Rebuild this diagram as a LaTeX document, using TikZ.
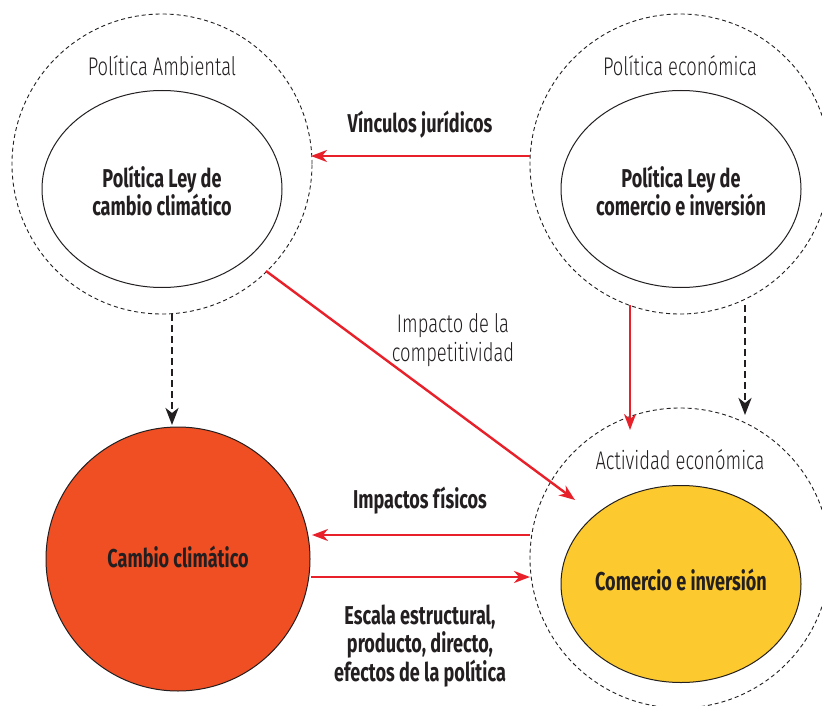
\documentclass[tikz,border=0pt]{standalone}
\usepackage{fontspec}
\setmainfont{Fira Sans}[FakeStretch=0.7]
\newfontfamily\lightfont{Fira Sans Light}[FakeStretch=0.72]
\usetikzlibrary{shapes.geometric,arrows.meta,calc}
\definecolor{ink}{HTML}{231F20}
\definecolor{arrowred}{HTML}{E8202A}
\definecolor{climorange}{HTML}{F04E23}
\definecolor{tradeyellow}{HTML}{FCC92E}
\tikzset{
  outer/.style={circle, draw=ink, dash pattern=on 4pt off 3pt, line width=0.9pt, minimum size=300pt, inner sep=0pt},
  inner/.style={ellipse, draw=ink, line width=1pt, minimum width=240pt, minimum height=197pt, inner sep=0pt},
  boldtxt/.style={align=center, text=ink, font=\bfseries\fontsize{25.8}{28.5}\selectfont, inner sep=0pt},
  lighttxt/.style={align=center, text=ink, font=\lightfont\fontsize{25.5}{28.5}\selectfont, inner sep=0pt},
  redarrow/.style={draw=arrowred, line width=2.4pt, -{Stealth[length=16pt,width=12pt,inset=5pt]}},
  blackarrow/.style={draw=ink, line width=2.6pt, dash pattern=on 7pt off 4pt, -{Stealth[length=17pt,width=13pt,inset=5pt]}}
}
\begin{document}
\begin{tikzpicture}[x=1pt,y=-1pt]
\useasboundingbox (0,0) rectangle (822,706);
\clip (0,0) rectangle (822,706);
\fill[white] (0,0) rectangle (822,706);

% outer dashed circles
\node[outer] (ambOuter) at (162,164) {};
\node[outer] (econOuter) at (680,164) {};
\node[outer] (actOuter) at (680,558) {};

% inner shapes
\node[inner] (ambInner) at (162,189) {};
\node[inner] (econInner) at (681,189) {};
\node[inner, fill=tradeyellow] (tradeInner) at (681,584) {};
\node[circle, draw=ink, line width=1pt, fill=climorange, minimum size=264pt, inner sep=0pt] (clim) at (178,559) {};

% texts
\node[lighttxt] (ambLabel) at (162,66) {Política Ambiental};
\node[lighttxt] (econLabel) at (680,66) {Política económica};
\node[lighttxt] (actLabel) at (680,460) {Actividad económica};
\node[boldtxt] (ambText) at (162,191) {Política Ley de\\cambio climático};
\node[boldtxt] (econText) at (681,191) {Política Ley de\\comercio e inversión};
\node[boldtxt] (tradeText) at (681,580) {Comercio e inversión};
\node[boldtxt] (climText) at (178,557) {Cambio climático};
\node[boldtxt] (vincLabel) at (420,125) {Vínculos jurídicos};
\node[boldtxt] (fisLabel) at (420,501) {Impactos físicos};
\node[boldtxt] (escLabel) at (420,646) {Escala estructural,\\producto, directo,\\efectos de la política};
\node[lighttxt] (compLabel) at (453,340) {Impacto de la\\competitividad};

% connector ends
\coordinate (vincStart) at ($(econOuter.center)+(-150,-8)$);
\coordinate (vincEnd) at ($(ambOuter.center)+(149,-8)$);
\coordinate (compStart) at ($(ambOuter.center)+(104,107)$);
\coordinate (compEnd) at ($(actOuter.center)+(-105,-58)$);
\coordinate (econRedStart) at ($(econOuter.center)+(-50,141)$);
\coordinate (econRedEnd) at ($(actOuter.center)+(-50,-128)$);
\coordinate (econDashStart) at ($(econOuter.center)+(65,141)$);
\coordinate (econDashEnd) at ($(actOuter.center)+(65,-143)$);
\coordinate (ambDashStart) at ($(ambOuter.center)+(10,150)$);
\coordinate (ambDashEnd) at ($(clim.center)+(-6,-134)$);
\coordinate (fisStart) at ($(actOuter.center)+(-150,-23)$);
\coordinate (fisEnd) at ($(clim.center)+(134,-24)$);
\coordinate (escStart) at ($(clim.center)+(133,18)$);
\coordinate (escEnd) at ($(actOuter.center)+(-150,19)$);

% connectors
\draw[redarrow] (vincStart) -- (vincEnd);
\draw[redarrow] (compStart) -- (compEnd);
\draw[redarrow] (econRedStart) -- (econRedEnd);
\draw[blackarrow] (econDashStart) -- (econDashEnd);
\draw[blackarrow] (ambDashStart) -- (ambDashEnd);
\draw[redarrow] (fisStart) -- (fisEnd);
\draw[redarrow] (escStart) -- (escEnd);
\end{tikzpicture}
\end{document}
